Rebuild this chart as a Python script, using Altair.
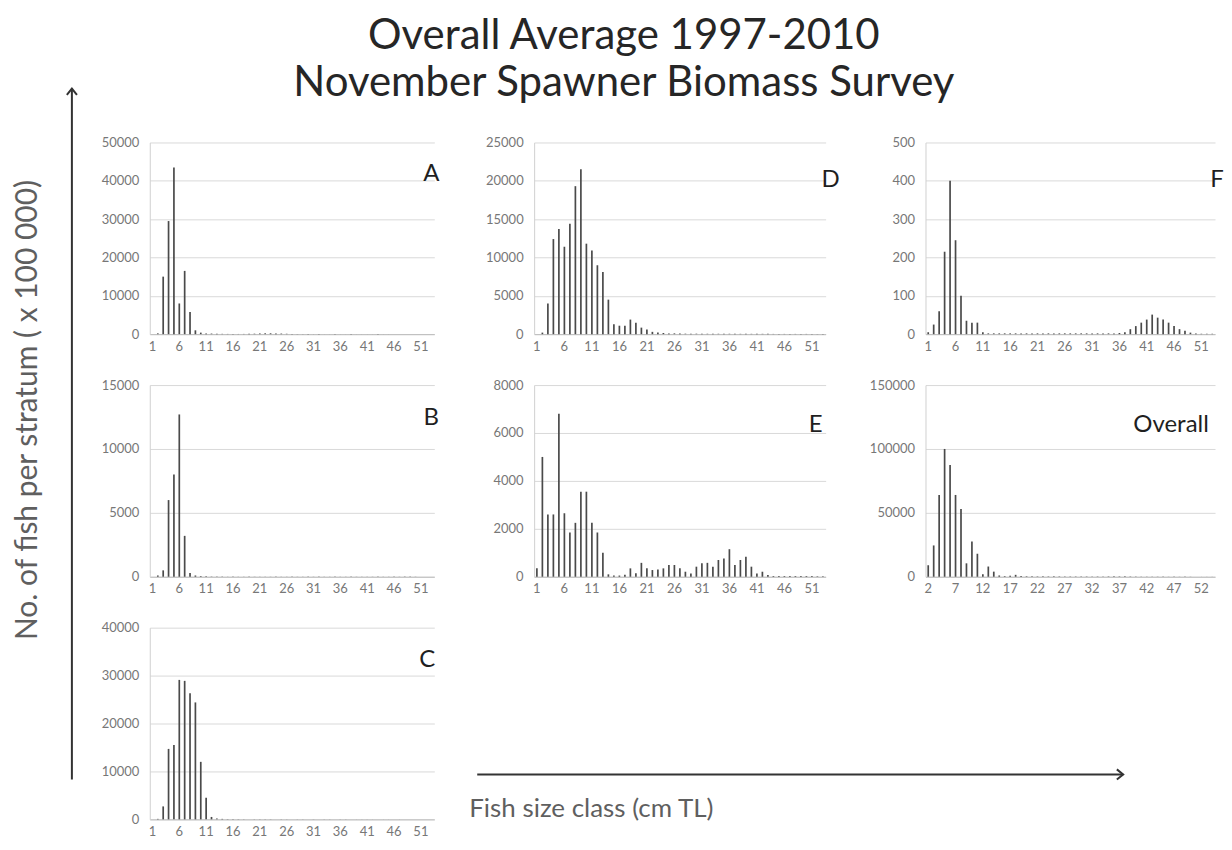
import altair as alt
import pandas as pd

TITLE_LINES = ["Overall Average 1997-2010", "November Spawner Biomass Survey"]
Y_TITLE = "No. of fish per stratum ( x 100 000)"
X_TITLE = "Fish size class (cm TL)"

SIZE_CLASSES = list(range(1, 54))          # panels A-F
SIZE_CLASSES_OVERALL = list(range(2, 55))  # Overall panel
X_LABELS = [1, 6, 11, 16, 21, 26, 31, 36, 41, 46, 51]
X_LABELS_OVERALL = [2, 7, 12, 17, 22, 27, 32, 37, 42, 47, 52]

A_VALUES = [
    0, 200, 15000, 29500, 43500, 8000, 16500, 5800, 1000, 400,
    200, 150, 100, 80, 60, 50, 50, 60, 80, 120,
    180, 220, 220, 180, 150, 100, 60, 40, 30, 20,
    20, 20, 10, 10, 10, 10, 10, 10, 10, 10,
    10, 10, 10, 10, 10, 0, 0, 0, 0, 0,
    0, 0, 0]
B_VALUES = [
    0, 100, 500, 6000, 8000, 12700, 3200, 300, 100, 50,
    30, 20, 20, 20, 10, 10, 10, 10, 10, 10,
    10, 10, 10, 10, 10, 10, 10, 10, 10, 10,
    10, 10, 10, 10, 10, 10, 10, 10, 10, 10,
    10, 10, 10, 10, 10, 10, 10, 10, 10, 10,
    0, 0, 0]
C_VALUES = [
    0, 100, 2700, 14700, 15500, 29100, 28900, 26300, 24400, 12000,
    4500, 500, 200, 100, 50, 50, 40, 30, 30, 30,
    30, 30, 30, 30, 30, 20, 20, 20, 20, 20,
    20, 20, 20, 20, 20, 20, 20, 10, 10, 10,
    10, 10, 10, 10, 10, 10, 10, 10, 0, 0,
    0, 0, 0]
D_VALUES = [
    0, 200, 4000, 12400, 13700, 11400, 14400, 19300, 21500, 11800,
    10900, 9000, 8100, 4500, 1300, 1100, 1100, 1900, 1500, 850,
    600, 300, 200, 150, 100, 100, 80, 60, 60, 60,
    60, 50, 50, 50, 50, 50, 50, 40, 40, 40,
    40, 40, 40, 30, 30, 30, 30, 30, 30, 30,
    20, 20, 20]
E_VALUES = [
    350, 5000, 2600, 2600, 6800, 2650, 1850, 2250, 3550, 3550,
    2250, 1850, 1000, 100, 50, 50, 80, 350, 150, 580,
    350, 280, 300, 350, 490, 490, 350, 210, 140, 420,
    560, 580, 420, 700, 760, 1150, 490, 700, 830, 420,
    140, 210, 70, 30, 30, 30, 30, 30, 30, 30,
    30, 20, 20]
F_VALUES = [
    5, 25, 60, 215, 400, 245, 100, 35, 30, 30,
    5, 2, 2, 2, 2, 2, 2, 2, 2, 2,
    2, 2, 2, 2, 2, 2, 2, 2, 2, 2,
    2, 2, 2, 2, 2, 3, 5, 13, 21, 30,
    38, 51, 43, 38, 30, 21, 13, 9, 4, 2,
    1, 1, 1]
OVERALL_VALUES = [
    9000, 24500, 64000, 100000, 87500, 64000, 53000, 10500, 27500, 18000,
    2000, 8000, 4000, 1000, 500, 800, 1500, 500, 400, 300,
    300, 300, 300, 300, 300, 250, 250, 250, 250, 250,
    250, 250, 250, 300, 300, 300, 300, 250, 200, 150,
    150, 150, 150, 100, 100, 100, 100, 100, 100, 50,
    50, 50, 50]

A_TICKS = [0, 10000, 20000, 30000, 40000, 50000]
B_TICKS = [0, 5000, 10000, 15000]
C_TICKS = [0, 10000, 20000, 30000, 40000]
D_TICKS = [0, 5000, 10000, 15000, 20000, 25000]
E_TICKS = [0, 2000, 4000, 6000, 8000]
F_TICKS = [0, 100, 200, 300, 400, 500]
OVERALL_TICKS = [0, 50000, 100000, 150000]

FONT = "Lato"
H = 192
W_LEFT = 42
W_COL1 = 285
W_COL2 = 292
W_COL3 = 290
GREY = "#5f5f5f"
TICK_GREY = "#777777"
BAR = "#4a4a4a"


def panel(values, classes, xlabels, yticks, letter, width, lx, ly):
    df = pd.DataFrame({"size_class": classes, "fish": values})
    bars = alt.Chart(df).mark_bar(size=1.7, color=BAR).encode(
        x=alt.X(
            "size_class:O",
            scale=alt.Scale(domain=classes, paddingInner=0, paddingOuter=0),
            axis=alt.Axis(values=xlabels, labelAngle=0, ticks=False, grid=False,
                          domainColor="#bdbdbd", labelColor=TICK_GREY,
                          labelFontSize=13, labelPadding=6, labelFont=FONT),
            title=None,
        ),
        y=alt.Y(
            "fish:Q",
            scale=alt.Scale(domain=[0, yticks[-1]], nice=False),
            axis=alt.Axis(values=yticks, format="d", ticks=False, grid=True,
                          gridColor="#d9d9d9", domainColor="#d0d0d0",
                          labelColor=TICK_GREY, labelFontSize=13,
                          labelPadding=11, labelFont=FONT),
            title=None,
        ),
    )
    lab = alt.Chart(pd.DataFrame({"panel": [letter]})).mark_text(
        font=FONT, fontSize=24, color="#1f1f1f", align="center", baseline="middle"
    ).encode(text="panel:N", x=alt.value(lx), y=alt.value(ly))
    return alt.layer(bars, lab).properties(width=width, height=H)


def blank(width):
    return alt.Chart(pd.DataFrame({"t": [""]})).mark_text().encode(
        text="t:N").properties(width=width, height=H)


pa = panel(A_VALUES, SIZE_CLASSES, X_LABELS, A_TICKS, "A", W_COL1, 282, 32)
pb = panel(B_VALUES, SIZE_CLASSES, X_LABELS, B_TICKS, "B", W_COL1, 282, 33)
pc = panel(C_VALUES, SIZE_CLASSES, X_LABELS, C_TICKS, "C", W_COL1, 278, 32)
pd_ = panel(D_VALUES, SIZE_CLASSES, X_LABELS, D_TICKS, "D", W_COL2, 297, 38)
pe = panel(E_VALUES, SIZE_CLASSES, X_LABELS, E_TICKS, "E", W_COL2, 282, 40)
pf = panel(F_VALUES, SIZE_CLASSES, X_LABELS, F_TICKS, "F", W_COL3, 292, 38)
po = panel(OVERALL_VALUES, SIZE_CLASSES_OVERALL, X_LABELS_OVERALL, OVERALL_TICKS,
           "Overall", W_COL3, 246, 40)

# vertical axis arrow + label (decoration)
ydf = pd.DataFrame({"t": [Y_TITLE]})
y_line = alt.Chart(ydf).mark_rule(color="#333333", strokeWidth=2).encode(
    x=alt.value(64), y=alt.value(-297), y2=alt.value(395))
y_head = alt.Chart(ydf).mark_point(
    shape="M -0.8 1 L 0 0 L 0.8 1", filled=False, size=160, strokeWidth=2,
    color="#333333", opacity=1).encode(x=alt.value(64), y=alt.value(-297))
y_text = alt.Chart(ydf).mark_text(
    angle=270, font=FONT, fontSize=30, color=GREY).encode(
    text="t:N", x=alt.value(20), y=alt.value(25))
left = alt.layer(y_line, y_head, y_text).properties(width=W_LEFT, height=H)

# horizontal axis arrow + label (decoration)
xdf = pd.DataFrame({"t": [X_TITLE]})
x_line = alt.Chart(xdf).mark_rule(color="#333333", strokeWidth=2).encode(
    x=alt.value(-57), x2=alt.value(590), y=alt.value(147))
x_head = alt.Chart(xdf).mark_point(
    shape="M -1 -0.8 L 0 0 L -1 0.8", filled=False, size=160, strokeWidth=2,
    color="#333333", opacity=1).encode(x=alt.value(590), y=alt.value(147))
x_text = alt.Chart(xdf).mark_text(
    font=FONT, fontSize=26, color=GREY, align="left", baseline="middle").encode(
    text="t:N", x=alt.value(-65), y=alt.value(182))
bottom = alt.layer(x_line, x_head, x_text).properties(width=W_COL2, height=H)

chart = alt.concat(
    blank(W_LEFT), pa, pd_, pf,
    left, pb, pe, po,
    blank(W_LEFT), pc, bottom,
    columns=4,
    spacing={"row": 51, "column": 100},
    bounds="flush",
    align="each",
).properties(
    title=alt.TitleParams(
        text=TITLE_LINES, font=FONT, fontSize=42, fontWeight="normal",
        color="#262626", anchor="middle", lineHeight=47, offset=-20, dx=8,
    ),
    padding={"left": 0, "top": 6, "right": 0, "bottom": 0},
).configure_view(strokeWidth=0)

chart.save("out.html", embed_options={"renderer": "svg", "actions": False})
